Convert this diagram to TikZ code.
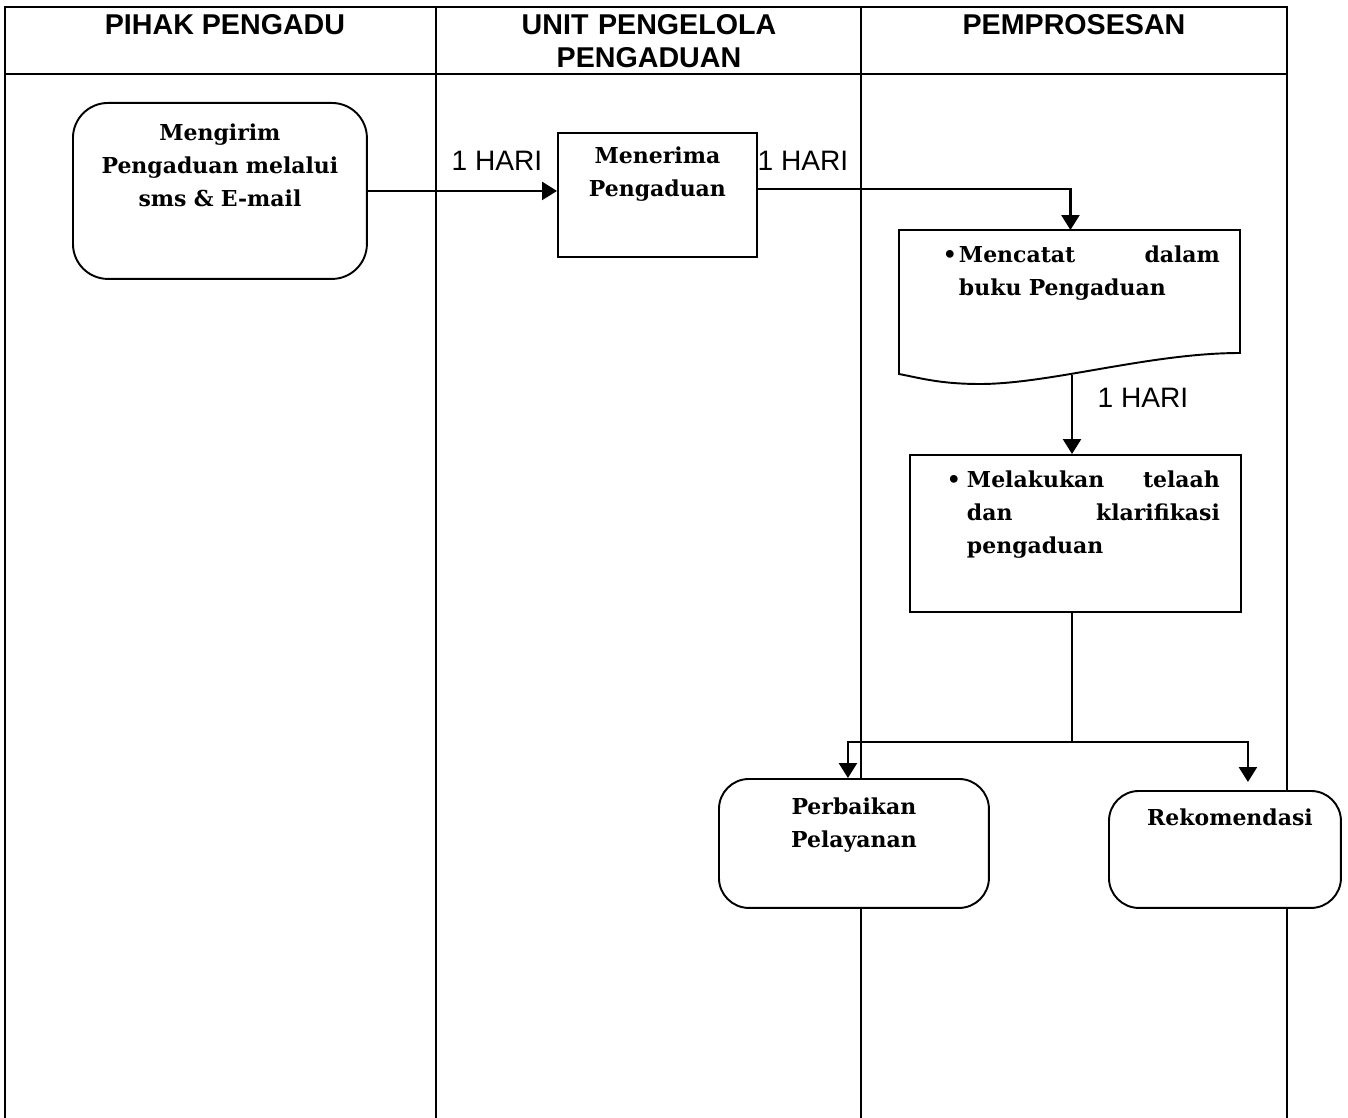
\documentclass[tikz,border=0pt]{standalone}
\usepackage{fontspec}
\setmainfont{Liberation Sans}
\newfontfamily\serifbold{DejaVu Serif}
\usepackage{tikz}
\usetikzlibrary{arrows.meta, positioning}

\begin{document}
\begin{tikzpicture}[x=0.02cm, y=-0.02cm,
    lane/.style={line width=1.1pt},
    hdr/.style={font=\bfseries\fontsize{16.3}{18.7}\selectfont, align=center, inner sep=0pt},
    lbl/.style={font=\fontsize{16}{18}\selectfont, inner sep=0pt},
    box/.style={draw, line width=1.1pt, fill=white, inner sep=0pt, anchor=north west,
        font=\serifbold\bfseries\fontsize{12.5}{18.7}\selectfont},
    rbox/.style={box, rounded corners=0.6cm, align=center},
    flow/.style={line width=1.4pt, -{Triangle[length=0.3cm, width=0.36cm]}}]
    \useasboundingbox (0,0) rectangle (1348,1118);

    % Lanes
    \draw[lane] (5,1118) -- (5,7) -- (1287,7) -- (1287,1118);
    \draw[lane] (5,74) -- (1287,74);
    \draw[lane] (436,7) -- (436,1118);
    \draw[lane] (861,7) -- (861,1118);

    % Headers
    \node[hdr, anchor=base] (pengadu) at (225,35) {PIHAK PENGADU};
    \node[hdr, anchor=base, text width=8cm] (unit) at (649,35) {UNIT PENGELOLA\\PENGADUAN};
    \node[hdr, anchor=base] (proses) at (1074,35) {PEMPROSESAN};

    % Steps
    \node[rbox, rounded corners=0.7cm, text width=5.88cm, text height=0.76cm, text depth=2.76cm]
        (send) at (72,102) {Mengirim\\Pengaduan melalui\\sms \& E-mail};
    \node[box, align=center, text width=3.98cm, text height=0.62cm, text depth=1.86cm]
        (recv) at (557,132) {Menerima\\Pengaduan};

    % Document shape
    \draw[line width=1.1pt, fill=white] (899,230) -- (1240,230) -- (1240,353)
        .. controls (1150,353) and (1050,384) .. (980,384)
        .. controls (940,384) and (920,378) .. (899,374) -- cycle;
    \node[box, draw=none, fill=none, text width=6.82cm, text height=0.64cm, text depth=2.24cm]
        (doc) at (899,230) {\hspace*{0.86cm}\makebox[0.32cm][l]{\textbullet}\parbox[t]{5.22cm}{Mencatat\hfill dalam\\buku Pengaduan}};
    \coordinate (docout) at (1072,375);

    \node[box, text width=6.62cm, text height=0.66cm, text depth=2.48cm]
        (check) at (909,454) {\hspace*{0.74cm}\makebox[0.4cm][l]{\textbullet}\parbox[t]{5.06cm}{Melakukan\hfill telaah\\dan\hfill klarifikasi\\pengaduan}};

    \node[rbox, text width=5.4cm, text height=0.72cm, text depth=1.86cm]
        (fix) at (718,778) {Perbaikan\\Pelayanan};
    \node[rbox, text width=4.64cm, text height=0.7cm, text depth=1.64cm]
        (rec) at (1108,790) {\hspace*{0.2cm}Rekomendasi};

    % Durations
    \node[lbl] (hari1) at (497,161) {1 HARI};
    \node[lbl] (hari2) at (803,161) {1 HARI};
    \node[lbl] (hari3) at (1143,398) {1 HARI};

    % Flow
    \draw[flow] (send.east) -- (send.east -| recv.west);
    \draw[flow] ([yshift=0.12cm]recv.east) -| (doc.north);
    \draw[flow] (docout) -- (docout |- check.north);
    \coordinate (split) at (1072,742);
    \draw[line width=1.4pt] (check.south -| docout) -- (split);
    \draw[flow] (split) -| ([xshift=-0.12cm]fix.north);
    \draw[flow] (split) -| ([xshift=0.46cm, yshift=0.16cm]rec.north);
\end{tikzpicture}
\end{document}
